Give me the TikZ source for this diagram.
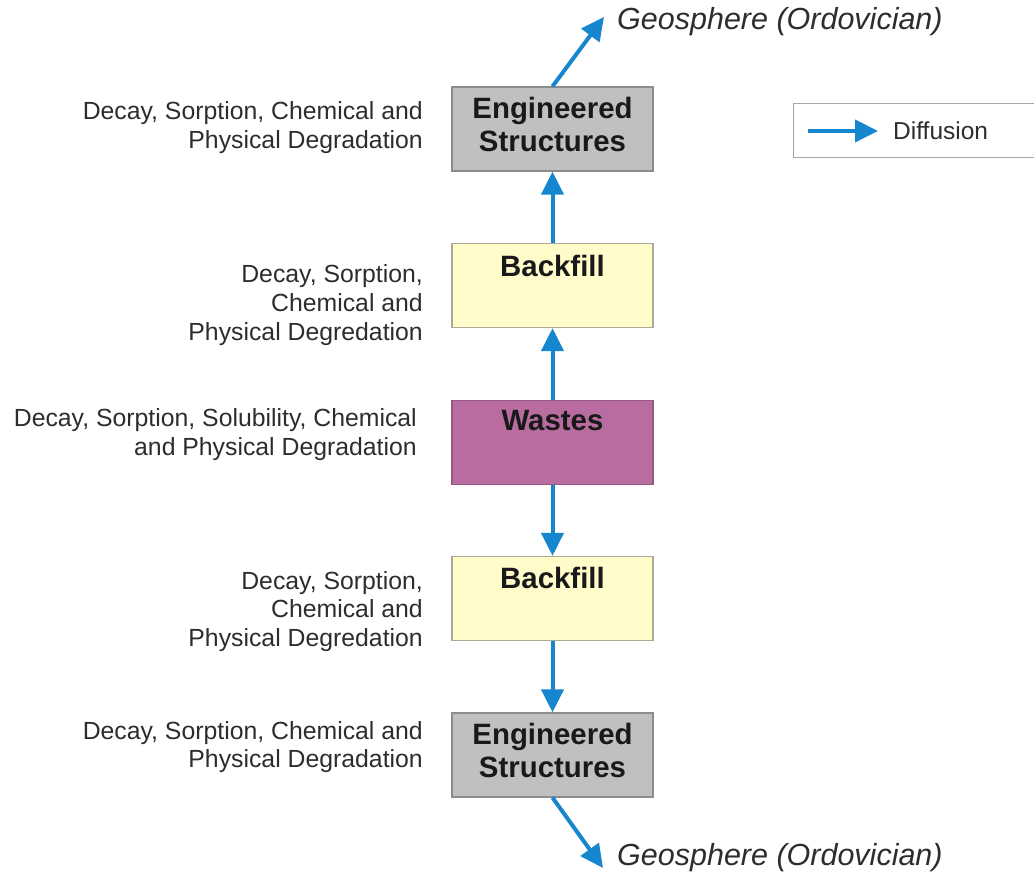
\documentclass[tikz,border=0pt]{standalone}
\usepackage{fontspec}
\setmainfont{Liberation Sans}
\usetikzlibrary{arrows.meta}
\definecolor{flowblue}{RGB}{22,134,206}
\definecolor{txtgray}{RGB}{45,45,45}
\definecolor{esfill}{RGB}{192,192,192}
\definecolor{esdraw}{RGB}{140,140,140}
\definecolor{bffill}{RGB}{255,252,202}
\definecolor{bfdraw}{RGB}{170,170,150}
\definecolor{wsfill}{RGB}{184,108,160}
\definecolor{wsdraw}{RGB}{150,90,130}
\tikzset{
  layer/.style={rectangle, minimum width=201pt, minimum height=84pt, line width=1.2pt, inner sep=0pt},
  layername/.style={font=\fontsize{29.4}{33}\selectfont\bfseries, text=black!90, align=center, inner sep=0pt},
  process/.style={font=\fontsize{24.8}{28.8}\selectfont, text=txtgray, align=right, anchor=east, inner sep=0pt},
  target/.style={font=\fontsize{30.5}{34}\selectfont\itshape, text=txtgray, anchor=west, inner sep=0pt},
  diffuse/.style={draw=flowblue, line width=4pt, -{Triangle[length=23pt,width=22pt]}},
}
\begin{document}
\begin{tikzpicture}[x=1pt,y=-1pt]
\useasboundingbox (0,0) rectangle (1034,877);

% layers of the barrier system
\node[layer, fill=esfill, draw=esdraw] (es1) at (552.5,129) {};
\node[layer, fill=bffill, draw=bfdraw] (bf1) at (552.5,285.5) {};
\node[layer, fill=wsfill, draw=wsdraw] (ws) at (552.5,442.5) {};
\node[layer, fill=bffill, draw=bfdraw] (bf2) at (552.5,598.5) {};
\node[layer, fill=esfill, draw=esdraw] (es2) at (552.5,755) {};

\node[layername] (es1t) at (552.5,124) {Engineered\\Structures};
\node[layername] (bf1t) at (552.5,266) {Backfill};
\node[layername] (wst) at (552.5,421) {Wastes};
\node[layername] (bf2t) at (552.5,578) {Backfill};
\node[layername] (es2t) at (552.5,750) {Engineered\\Structures};

% processes acting in each layer
\node[process] (p1) at (423,127.5) {Decay, Sorption, Chemical and\\Physical Degradation};
\node[process] (p2) at (423,305) {Decay, Sorption,\\Chemical and\\Physical Degredation};
\node[process] (p3) at (417,434.5) {Decay, Sorption, Solubility, Chemical\\and Physical Degradation};
\node[process] (p4) at (423,611.5) {Decay, Sorption,\\Chemical and\\Physical Degredation};
\node[process] (p5) at (423,747) {Decay, Sorption, Chemical and\\Physical Degradation};

% release to the host rock
\coordinate (gtop) at (604,17);
\coordinate (gbot) at (603,868);
\node[target] (geo1) at (617,22) {Geosphere (Ordovician)};
\node[target] (geo2) at (617,858) {Geosphere (Ordovician)};

% diffusion paths
\draw[diffuse] (ws.north) -- (bf1.south);
\draw[diffuse] (bf1.north) -- (es1.south);
\draw[diffuse] (es1.north) -- (gtop);
\draw[diffuse] (ws.south) -- (bf2.north);
\draw[diffuse] (bf2.south) -- (es2.north);
\draw[diffuse] (es2.south) -- (gbot);

% legend
\node[rectangle, draw=black!35, line width=1pt, minimum width=260pt, minimum height=54pt, anchor=north west, inner sep=0pt] (legend) at (793,103) {};
\coordinate (lga) at (808,131);
\coordinate (lgb) at (878,131);
\draw[diffuse] (lga) -- (lgb);
\node[font=\fontsize{24.5}{28}\selectfont, text=txtgray, anchor=west, inner sep=0pt] (lgt) at (893,131) {Diffusion};
\end{tikzpicture}
\end{document}
